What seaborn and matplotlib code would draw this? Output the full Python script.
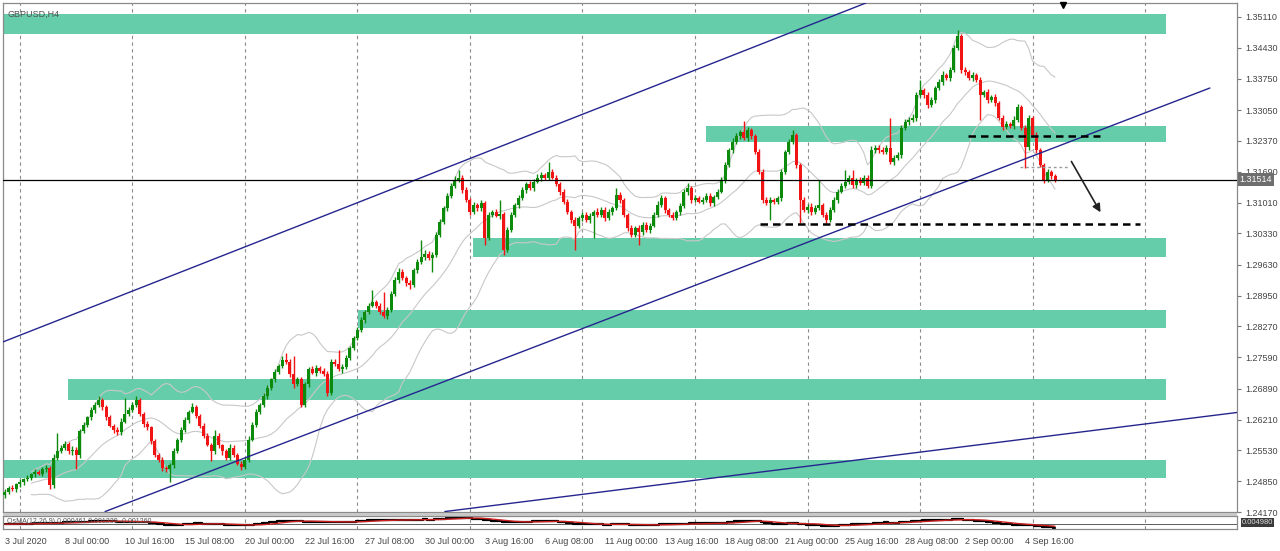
import numpy as np
import pandas as pd
import matplotlib
matplotlib.use("Agg")
import matplotlib.pyplot as plt
import matplotlib.transforms as mtransforms
from matplotlib.patches import Rectangle
import seaborn as sns

sns.set_style("white")
plt.rcParams['font.family'] = ['Liberation Sans', 'DejaVu Sans']

# ---------------- data ----------------
first_open = 1.2455
closes = [
    1.2462, 1.2471, 1.2467, 1.2478, 1.2484, 1.2489, 1.2493, 1.2500, 1.2506, 1.2502, 1.2511, 1.2515, 1.2476, 1.2537, 1.2551, 1.2559, 1.2568, 1.2551, 1.2555, 1.2542,
    1.2595, 1.2610, 1.2626, 1.2643, 1.2654, 1.2665, 1.2648, 1.2626, 1.2608, 1.2599, 1.2593, 1.2617, 1.2634, 1.2643, 1.2654, 1.2665, 1.2634, 1.2612, 1.2604, 1.2573,
    1.2544, 1.2533, 1.2515, 1.2511, 1.2520, 1.2551, 1.2577, 1.2599, 1.2621, 1.2639, 1.2648, 1.2630, 1.2608, 1.2586, 1.2566, 1.2551, 1.2586, 1.2564, 1.2551, 1.2537,
    1.2559, 1.2544, 1.2524, 1.2517, 1.2533, 1.2577, 1.2610, 1.2639, 1.2654, 1.2674, 1.2692, 1.2710, 1.2727, 1.2740, 1.2754, 1.2749, 1.2721, 1.2699, 1.2710, 1.2654,
    1.2699, 1.2732, 1.2725, 1.2736, 1.2729, 1.2723, 1.2681, 1.2749, 1.2745, 1.2732, 1.2738, 1.2758, 1.2780, 1.2802, 1.2820, 1.2842, 1.2860, 1.2873, 1.2880, 1.2873,
    1.2860, 1.2851, 1.2864, 1.2899, 1.2930, 1.2948, 1.2935, 1.2924, 1.2919, 1.2952, 1.2970, 1.2981, 1.2988, 1.2979, 1.2986, 1.3030, 1.3058, 1.3089, 1.3116, 1.3138,
    1.3151, 1.3156, 1.3129, 1.3107, 1.3080, 1.3096, 1.3089, 1.3100, 1.3023, 1.3074, 1.3080, 1.3072, 1.3076, 1.2997, 1.3041, 1.3074, 1.3096, 1.3111, 1.3129, 1.3142,
    1.3133, 1.3147, 1.3156, 1.3162, 1.3156, 1.3169, 1.3156, 1.3142, 1.3125, 1.3103, 1.3080, 1.3063, 1.3050, 1.3067, 1.3074, 1.3063, 1.3072, 1.3080, 1.3074, 1.3085,
    1.3067, 1.3080, 1.3089, 1.3118, 1.3107, 1.3074, 1.3045, 1.3030, 1.3045, 1.3036, 1.3052, 1.3041, 1.3050, 1.3074, 1.3096, 1.3111, 1.3085, 1.3074, 1.3067, 1.3080,
    1.3094, 1.3125, 1.3133, 1.3107, 1.3111, 1.3103, 1.3107, 1.3116, 1.3100, 1.3114, 1.3125, 1.3151, 1.3184, 1.3217, 1.3235, 1.3248, 1.3257, 1.3244, 1.3261, 1.3248,
    1.3213, 1.3169, 1.3107, 1.3100, 1.3107, 1.3103, 1.3111, 1.3169, 1.3213, 1.3235, 1.3250, 1.3184, 1.3107, 1.3085, 1.3092, 1.3080, 1.3089, 1.3096, 1.3074, 1.3063,
    1.3085, 1.3107, 1.3125, 1.3138, 1.3147, 1.3156, 1.3140, 1.3151, 1.3144, 1.3156, 1.3138, 1.3217, 1.3222, 1.3217, 1.3213, 1.3222, 1.3191, 1.3200, 1.3206, 1.3266,
    1.3279, 1.3284, 1.3288, 1.3339, 1.3350, 1.3339, 1.3317, 1.3328, 1.3354, 1.3367, 1.3383, 1.3376, 1.3394, 1.3443, 1.3469, 1.3394, 1.3390, 1.3376, 1.3383, 1.3372,
    1.3339, 1.3345, 1.3328, 1.3334, 1.3321, 1.3288, 1.3268, 1.3275, 1.3270, 1.3284, 1.3312, 1.3266, 1.3224, 1.3288, 1.3250, 1.3217, 1.3184, 1.3151, 1.3169, 1.3160, 1.31514,
]
# wick lengths in pips above / below the candle body
wick_up = [
    5, 4, 6, 3, 5, 4, 6, 3, 5, 4, 6, 5, 4, 8, 40, 6, 5, 4, 7, 5,
    6, 5, 4, 7, 5, 8, 4, 5, 6, 4, 5, 7, 35, 5, 6, 8, 4, 5, 6, 4,
    5, 4, 6, 3, 5, 7, 4, 6, 5, 4, 9, 5, 4, 6, 5, 4, 12, 5, 4, 6,
    8, 5, 4, 6, 5, 7, 6, 5, 4, 6, 5, 4, 6, 5, 7, 15, 6, 40, 5, 6,
    5, 6, 8, 5, 4, 6, 5, 7, 6, 31, 5, 6, 4, 5, 6, 5, 4, 6, 28, 5,
    6, 44, 5, 7, 6, 8, 5, 4, 6, 5, 6, 38, 7, 5, 6, 5, 6, 5, 7, 6,
    8, 17, 5, 6, 4, 7, 5, 6, 4, 6, 5, 7, 31, 4, 5, 6, 5, 7, 6, 5,
    6, 5, 7, 6, 5, 22, 6, 5, 4, 6, 5, 4, 6, 5, 7, 5, 6, 5, 8, 6,
    5, 6, 4, 15, 7, 5, 4, 6, 5, 6, 7, 5, 6, 5, 8, 6, 5, 4, 6, 5,
    7, 6, 11, 5, 6, 4, 7, 5, 6, 4, 5, 7, 6, 5, 8, 6, 5, 24, 6, 5,
    4, 6, 5, 7, 6, 5, 4, 6, 5, 7, 11, 5, 4, 6, 5, 7, 6, 55, 5, 6,
    5, 7, 6, 5, 26, 6, 17, 5, 7, 6, 5, 8, 6, 5, 7, 6, 66, 5, 6, 7,
    6, 5, 8, 6, 22, 5, 6, 7, 5, 6, 8, 5, 7, 6, 13, 5, 6, 4, 7, 5,
    6, 5, 7, 4, 6, 5, 7, 6, 5, 8, 6, 5, 6, 7, 5, 6, 4, 5, 6, 4, 5,
]
wick_dn = [
    6, 5, 4, 6, 5, 7, 4, 5, 6, 4, 5, 6, 9, 5, 6, 4, 5, 6, 7, 31,
    5, 4, 6, 5, 7, 4, 5, 6, 4, 7, 5, 6, 4, 5, 6, 5, 4, 7, 5, 6,
    6, 5, 7, 6, 27, 5, 4, 6, 5, 7, 4, 5, 6, 5, 4, 22, 6, 5, 7, 4,
    5, 6, 4, 7, 5, 6, 4, 5, 6, 4, 7, 5, 6, 4, 5, 6, 5, 7, 4, 6,
    6, 5, 4, 7, 5, 6, 8, 5, 6, 4, 7, 5, 6, 4, 5, 6, 7, 5, 4, 6,
    5, 6, 8, 5, 4, 6, 5, 7, 10, 5, 6, 4, 7, 5, 31, 6, 5, 4, 6, 5,
    6, 5, 7, 4, 6, 5, 7, 6, 15, 5, 6, 4, 7, 11, 5, 6, 4, 7, 5, 6,
    5, 6, 4, 7, 5, 6, 4, 5, 7, 6, 5, 8, 55, 5, 6, 4, 7, 50, 5, 6,
    6, 5, 7, 4, 6, 5, 7, 6, 5, 28, 6, 5, 7, 4, 6, 5, 7, 6, 5, 4,
    6, 5, 7, 6, 5, 4, 6, 5, 7, 6, 5, 4, 6, 5, 7, 4, 6, 5, 7, 6,
    5, 6, 7, 5, 38, 6, 5, 7, 6, 5, 4, 6, 51, 5, 7, 6, 5, 4, 6, 7,
    6, 5, 7, 4, 6, 5, 7, 6, 5, 4, 6, 5, 7, 6, 5, 4, 6, 7, 5, 6,
    5, 6, 4, 7, 5, 6, 8, 5, 6, 4, 7, 5, 6, 4, 5, 6, 7, 5, 6, 4,
    55, 5, 6, 4, 7, 5, 6, 4, 5, 7, 6, 5, 47, 6, 5, 7, 4, 7, 5, 6, 5,
]
last_price = 1.31514

price_ticks = [1.35110, 1.34430, 1.33750, 1.33050, 1.32370, 1.31690, 1.31010, 1.30330,
               1.29630, 1.28950, 1.28270, 1.27590, 1.26890, 1.26210, 1.25530, 1.24850, 1.24170]
date_labels = ["3 Jul 2020", "8 Jul 00:00", "10 Jul 16:00", "15 Jul 08:00", "20 Jul 00:00",
               "22 Jul 16:00", "27 Jul 08:00", "30 Jul 00:00", "3 Aug 16:00", "6 Aug 08:00",
               "11 Aug 00:00", "13 Aug 16:00", "18 Aug 08:00", "21 Aug 00:00", "25 Aug 16:00",
               "28 Aug 08:00", "2 Sep 00:00", "4 Sep 16:00"]
date_bars = [0, 16, 32, 48, 64, 80, 96, 112, 128, 144, 160, 176, 192, 208, 224, 240, 256, 272]
week_bars = [4, 34, 64, 94, 124, 154, 184, 214, 244, 274, 304]

# support / resistance zones: start bar, bottom price, top price
zone_start = [-1, 186.9, 124.8, 94.1, 16.8, -1]
zone_bottom = [1.3473, 1.3235, 1.2981, 1.2824, 1.2665, 1.2493]
zone_top = [1.3518, 1.3270, 1.3023, 1.2864, 1.2710, 1.2531]
zone_end = 309.6

# trend lines: (bar0, price0, bar1, price1)
trend_lines = [(-0.5, 1.2793, 229.6, 1.3542),
               (26.7, 1.2418, 321.3, 1.3354),
               (117.3, 1.2418, 328.6, 1.2637)]
dashed_levels = [(256.8, 292.0, 1.3248), (201.3, 302.7, 1.3054)]
small_level = (270.7, 283.5, 1.3180)
arrow_from = (284.0, 1.3197)
arrow_to = (292.5, 1.3074)

# ---------------- derived frame ----------------
df = pd.DataFrame({"close": closes})
df["bar"] = np.arange(len(df))
df["open"] = [first_open] + closes[:-1]
df["high"] = df[["open", "close"]].max(axis=1) + np.array(wick_up) * 1e-4
df["low"] = df[["open", "close"]].min(axis=1) - np.array(wick_dn) * 1e-4
mid = df["close"].rolling(20, min_periods=8).mean()
sd = df["close"].rolling(20, min_periods=8).std(ddof=0)
df["bb_mid"] = mid
df["bb_up"] = mid + 2 * sd
df["bb_dn"] = mid - 2 * sd
ema12 = df["close"].ewm(span=12, adjust=False).mean()
ema26 = df["close"].ewm(span=26, adjust=False).mean()
df["macd"] = ema12 - ema26
df["signal"] = df["macd"].rolling(9, min_periods=1).mean()

W, H = 1280, 551
fig = plt.figure(figsize=(W / 100, H / 100), dpi=100)
ax = fig.add_axes([3 / W, 1 - 512 / H, 1234 / W, 509 / H])
ax2 = fig.add_axes([3 / W, 1 - 529 / H, 1234 / W, 13 / H])

XMIN, XMAX = -0.53, 328.53
ax.set_xlim(XMIN, XMAX)
ax.set_ylim(1.24181, 1.35419)

# zones
for s, b, t in zip(zone_start, zone_bottom, zone_top):
    ax.add_patch(Rectangle((s, b), zone_end - s, t - b, color="#66cdaa", lw=0, zorder=1))

# weekly grid
for wb in week_bars:
    ax.axvline(wb, color="#8c8c8c", lw=0.8, ls=(0, (3, 3)), zorder=0.5)
    ax2.axvline(wb, color="#8c8c8c", lw=0.8, ls=(0, (3, 3)), zorder=0.5)

# bollinger bands
for col in ["bb_up", "bb_mid", "bb_dn"]:
    sns.lineplot(data=df, x="bar", y=col, ax=ax, color="#c8c8c8", lw=0.8, zorder=2)

# candles
up = df["close"] >= df["open"]
colors = np.where(up, "#0b8a0b", "#f01414")
ax.vlines(df["bar"], df["low"], df["high"], colors=colors, lw=1.0, zorder=3)
body_lo = df[["open", "close"]].min(axis=1)
body_h = (df["close"] - df["open"]).abs().clip(lower=0.00008)
ax.bar(df["bar"], body_h, bottom=body_lo, width=0.8, color=colors, lw=0, zorder=4)

# trend lines
for x0, y0, x1, y1 in trend_lines:
    ax.plot([x0, x1], [y0, y1], color="#25258f", lw=1.0, zorder=5)

# dashed levels and arrow
for x0, x1, y in dashed_levels:
    ax.plot([x0, x1], [y, y], color="black", lw=1.8, ls=(0, (3, 2)), zorder=6)
ax.plot([small_level[0], small_level[1]], [small_level[2]] * 2, color="#9a9a9a",
        lw=1.0, ls=(0, (2, 2)), zorder=6)
ax.annotate("", xy=arrow_to, xytext=arrow_from,
            arrowprops=dict(arrowstyle="-|>", color="#222222", lw=1.2,
                            mutation_scale=12), zorder=7)

# current price
ax.axhline(last_price, color="black", lw=0.9, zorder=6)
trans = mtransforms.blended_transform_factory(ax.transAxes, ax.transData)
ax.text(1.002, last_price, "1.31514", transform=trans, ha="left", va="center",
        fontsize=6.5, color="white", clip_on=False, zorder=10,
        bbox=dict(boxstyle="square,pad=0.2", fc="#6e6e6e", ec="none"))

# chart shift marker
ax.plot([282], [1.3537], marker="v", color="black", ms=5, zorder=8, clip_on=False)

ax.text(0.004, 0.987, "GBPUSD,H4", transform=ax.transAxes, ha="left", va="top",
        fontsize=6.5, color="#505050", zorder=9)

# axes styling
ax.yaxis.tick_right()
ax.set_yticks(price_ticks)
ax.set_yticklabels([f"{p:.5f}" for p in price_ticks])
ax.tick_params(axis="y", direction="out", length=3, width=0.8, colors="#777777",
               labelcolor="#444444", labelsize=6.5, pad=3)
ax.set_xticks([])
ax.set_xlabel("")
ax.set_ylabel("")
for sp in ax.spines.values():
    sp.set_color("#8a8a8a")
    sp.set_linewidth(0.9)

# indicator panel
sns.lineplot(data=df, x="bar", y="signal", ax=ax2, color="#cc2020", lw=1.0, zorder=3)
ax2.step(df["bar"], df["macd"], where="mid", color="black", lw=1.6, zorder=2)
ax2.axhline(0, color="#444444", lw=0.6, zorder=1)
lo = min(df["macd"].min(), df["signal"].min())
hi = max(df["macd"].max(), df["signal"].max())
pad = (hi - lo) * 0.15
ax2.set_xlim(XMIN, XMAX)
ax2.set_ylim(lo - pad, hi + pad)
ax2.set_yticks([])
ax2.set_xlabel("")
ax2.set_ylabel("")
ax2.set_xticks(date_bars)
ax2.set_xticklabels(date_labels)
for lbl in ax2.get_xticklabels():
    lbl.set_ha("left")
ax2.tick_params(axis="x", direction="out", length=3, width=0.8, colors="#777777",
                labelcolor="#444444", labelsize=6.5, pad=3)
for sp in ax2.spines.values():
    sp.set_color("#8a8a8a")
    sp.set_linewidth(0.9)
ax2.text(0.003, 0.55, "OsMA(12,26,9) 0.000461 0.001239 -0.001260", transform=ax2.transAxes,
         ha="left", va="center", fontsize=5, color="#555555", zorder=6)
ax2.text(1.004, 0.5, "0.004980", transform=ax2.transAxes, ha="left", va="center",
         fontsize=5.5, color="#dddddd", clip_on=False,
         bbox=dict(boxstyle="square,pad=0.15", fc="#3a3a3a", ec="none"))

# separator band between panels
fig.patches.append(Rectangle((3 / W, 1 - 516 / H), 1234 / W, 3 / H, transform=fig.transFigure,
                             color="#c8c8c8", lw=0))

fig.savefig("out.png", dpi=100)
